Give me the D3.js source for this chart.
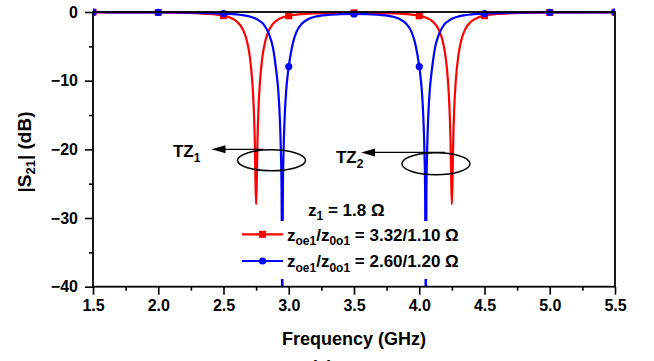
<!DOCTYPE html>
<html>
<head>
<meta charset="utf-8">
<script src="https://cdn.jsdelivr.net/npm/d3@7"></script>
<style>
  body { margin: 0; background: #fff; }
  text { font-family: "Liberation Sans", Arial, sans-serif; font-weight: bold; fill: #000; }
  .tick text { font-size: 16px; }
  .tick line { stroke: #000; stroke-width: 1.6; }
</style>
</head>
<body>
<svg id="chart" width="654" height="361"></svg>
<script>
// frequency points (GHz), denser around the transmission zeros
const freq = [
  1.5, 1.6, 1.7, 1.8, 1.9, 2.0, 2.1, 2.2, 2.3, 2.4,
  2.5, 2.55, 2.6, 2.65, 2.68, 2.7, 2.72, 2.73, 2.74, 2.745,
  2.75, 2.755, 2.76, 2.77, 2.78, 2.8, 2.82, 2.85, 2.88, 2.9,
  2.91, 2.92, 2.93, 2.94, 2.945, 2.95, 2.955, 2.96, 2.97, 2.98,
  3.0, 3.03, 3.06, 3.1, 3.15, 3.2, 3.3, 3.4, 3.5,
  3.6, 3.7, 3.8, 3.85, 3.9, 3.94, 3.97, 4.0,
  4.02, 4.03, 4.04, 4.045, 4.05, 4.055, 4.06, 4.07, 4.08, 4.09,
  4.1, 4.12, 4.15, 4.18, 4.2, 4.22, 4.23, 4.24, 4.245, 4.25,
  4.255, 4.26, 4.27, 4.28, 4.3, 4.32, 4.35, 4.4, 4.45, 4.5,
  4.6, 4.7, 4.8, 4.9, 5.0, 5.1, 5.2, 5.3, 5.4, 5.5
];

// zoe1/z0o1 = 3.32/1.10
const redDb = [
  -0.04, -0.04, -0.04, -0.05, -0.06, -0.07, -0.09, -0.13, -0.18, -0.29,
  -0.54, -0.81, -1.35, -2.59, -4.25, -6.27, -10.0, -13.3, -19.1, -24.6,
  -28.0, -24.6, -19.1, -13.3, -10.0, -6.27, -4.25, -2.59, -1.71, -1.35,
  -1.2, -1.08, -0.98, -0.89, -0.85, -0.81, -0.78, -0.74, -0.68, -0.63,
  -0.55, -0.45, -0.37, -0.3, -0.23, -0.2, -0.15, -0.13, -0.12,
  -0.13, -0.15, -0.2, -0.23, -0.3, -0.37, -0.45, -0.55,
  -0.63, -0.68, -0.74, -0.78, -0.81, -0.85, -0.89, -0.98, -1.08, -1.2,
  -1.35, -1.71, -2.59, -4.25, -6.27, -10.0, -13.3, -19.1, -24.6, -28.0,
  -24.6, -19.1, -13.3, -10.0, -6.27, -4.25, -2.59, -1.35, -0.81, -0.54,
  -0.29, -0.18, -0.13, -0.09, -0.07, -0.06, -0.05, -0.04, -0.04, -0.04
];

// zoe1/z0o1 = 2.60/1.20
const blueDb = [
  -0.03, -0.04, -0.04, -0.05, -0.05, -0.06, -0.07, -0.08, -0.11, -0.15,
  -0.22, -0.27, -0.35, -0.47, -0.56, -0.65, -0.76, -0.83, -0.9, -0.95,
  -0.99, -1.04, -1.1, -1.22, -1.35, -1.65, -2.15, -3.3, -5.3, -7.9,
  -9.5, -11.5, -14.8, -20.5, -26.0, -45.0, -26.0, -20.5, -14.8, -11.5,
  -7.95, -4.65, -2.85, -1.7, -1.03, -0.7, -0.42, -0.32, -0.29,
  -0.32, -0.42, -0.7, -1.03, -1.7, -2.85, -4.65, -7.95,
  -11.5, -14.8, -20.5, -26.0, -45.0, -26.0, -20.5, -14.8, -11.5, -9.5,
  -7.9, -5.3, -3.3, -2.15, -1.65, -1.35, -1.22, -1.1, -1.04, -0.99,
  -0.95, -0.9, -0.83, -0.76, -0.65, -0.56, -0.47, -0.35, -0.27, -0.22,
  -0.15, -0.11, -0.08, -0.07, -0.06, -0.05, -0.05, -0.04, -0.04, -0.03
];

const xTicks = [1.5, 2.0, 2.5, 3.0, 3.5, 4.0, 4.5, 5.0, 5.5];
const xMinor = [1.75, 2.25, 2.75, 3.25, 3.75, 4.25, 4.75, 5.25];
const yTicks = [0, -10, -20, -30, -40];
const yMinor = [-5, -15, -25, -35];

const svg = d3.select("#chart");
const L = 93, R = 615, T = 12, B = 286.7;

const x = d3.scaleLinear().domain([1.5, 5.5]).range([L, R]);
const y = d3.scaleLinear().domain([-40, 0]).range([B, T]);

svg.append("rect").attr("width", 654).attr("height", 361).attr("fill", "#fff");

svg.append("defs").append("clipPath").attr("id", "plot-clip")
  .append("rect").attr("x", L).attr("y", 0).attr("width", R - L).attr("height", B);

// ── Curves ───────────────────────────────────────────────
const line = d3.line()
  .x(d => x(d.f))
  .y(d => y(d.v))
  .curve(d3.curveMonotoneX);

const plot = svg.append("g").attr("clip-path", "url(#plot-clip)");

function drawSeries(vals, color, shape) {
  const pts = freq.map((f, i) => ({ f, v: vals[i] }));
  plot.append("path")
    .datum(pts)
    .attr("d", line)
    .attr("fill", "none")
    .attr("stroke", color)
    .attr("stroke-width", 2.2)
    .attr("stroke-linejoin", "round");
  // markers every 0.5 GHz
  const marks = pts.filter(d => Math.abs(d.f * 2 - Math.round(d.f * 2)) < 1e-6);
  if (shape === "square") {
    plot.selectAll(null).data(marks).join("rect")
      .attr("x", d => x(d.f) - 3.5).attr("y", d => y(d.v) - 3.5)
      .attr("width", 7).attr("height", 7).attr("fill", color);
  } else {
    plot.selectAll(null).data(marks).join("circle")
      .attr("cx", d => x(d.f)).attr("cy", d => y(d.v))
      .attr("r", 3.6).attr("fill", color);
  }
}
drawSeries(redDb, "#ff0000", "square");
drawSeries(blueDb, "#0000ff", "circle");

// ── Axes ─────────────────────────────────────────────────
const gx = svg.append("g").attr("transform", `translate(0,${B})`)
  .call(d3.axisBottom(x).tickValues(xTicks).tickFormat(d3.format(".1f")).tickSize(8).tickPadding(5));
gx.select(".domain").remove();
const gxm = svg.append("g").attr("transform", `translate(0,${B})`)
  .call(d3.axisBottom(x).tickValues(xMinor).tickFormat("").tickSize(4));
gxm.select(".domain").remove();

const gy = svg.append("g").attr("transform", `translate(${L},0)`)
  .call(d3.axisLeft(y).tickValues(yTicks).tickFormat(d3.format("d")).tickSize(8).tickPadding(7));
gy.select(".domain").remove();
const gym = svg.append("g").attr("transform", `translate(${L},0)`)
  .call(d3.axisLeft(y).tickValues(yMinor).tickFormat("").tickSize(4));
gym.select(".domain").remove();

svg.append("rect")
  .attr("x", L).attr("y", T).attr("width", R - L).attr("height", B - T)
  .attr("fill", "none").attr("stroke", "#000").attr("stroke-width", 1.8);

// axis titles
svg.append("text")
  .attr("x", (L + R) / 2).attr("y", 345)
  .attr("text-anchor", "middle").style("font-size", "18px")
  .text("Frequency (GHz)");

const yt = svg.append("text")
  .attr("transform", "translate(31,152) rotate(-90)")
  .attr("text-anchor", "middle").style("font-size", "19px");
yt.append("tspan").text("|S");
yt.append("tspan").attr("dy", 4).style("font-size", "13px").text("21");
yt.append("tspan").attr("dy", -4).text("| (dB)");

svg.append("text")
  .attr("x", 322).attr("y", 373).attr("text-anchor", "middle").style("font-size", "18px")
  .text("(a)");

// ── TZ annotations ───────────────────────────────────────
function arrow(f0, f1, db) {
  const yy = y(db);
  svg.append("line")
    .attr("x1", x(f0)).attr("x2", x(f1) + 10).attr("y1", yy).attr("y2", yy)
    .attr("stroke", "#000").attr("stroke-width", 1.3);
  const tip = x(f1);
  svg.append("path")
    .attr("d", `M${tip},${yy}L${tip + 14},${yy - 4}L${tip + 14},${yy + 4}Z`)
    .attr("fill", "#000");
}
function ellipse(f, db, rx, ry) {
  svg.append("ellipse")
    .attr("cx", x(f)).attr("cy", y(db)).attr("rx", rx).attr("ry", ry)
    .attr("fill", "none").attr("stroke", "#000").attr("stroke-width", 1.5);
}
function tzLabel(f, db, sub) {
  const t = svg.append("text").attr("x", x(f)).attr("y", y(db)).style("font-size", "17px");
  t.append("tspan").text("TZ");
  t.append("tspan").attr("dy", 5).style("font-size", "12px").text(sub);
}

ellipse(2.868, -21.6, 34, 10.5);
arrow(2.806, 2.408, -20.0);
tzLabel(2.113, -21.05, "1");

ellipse(4.128, -22.1, 34, 11);
arrow(4.197, 3.554, -20.45);
tzLabel(3.362, -22.0, "2");

// ── Legend ───────────────────────────────────────────────
svg.append("rect")
  .attr("x", 238).attr("y", 221).attr("width", 232).attr("height", 58)
  .attr("fill", "#fff");

const z1 = svg.append("text").attr("x", 308).attr("y", 215.5).style("font-size", "17px");
z1.append("tspan").text("z");
z1.append("tspan").attr("dy", 4.5).style("font-size", "12px").text("1");
z1.append("tspan").attr("dy", -4.5).text(" = 1.8 \u03A9");

const legendRows = [
  { color: "#ff0000", shape: "square", ratio: "3.32/1.10", y: 234.3 },
  { color: "#0000ff", shape: "circle", ratio: "2.60/1.20", y: 261 }
];
legendRows.forEach(r => {
  svg.append("line")
    .attr("x1", 242).attr("x2", 283).attr("y1", r.y).attr("y2", r.y)
    .attr("stroke", r.color).attr("stroke-width", 2.2);
  if (r.shape === "square") {
    svg.append("rect").attr("x", 259).attr("y", r.y - 3.5).attr("width", 7).attr("height", 7).attr("fill", r.color);
  } else {
    svg.append("circle").attr("cx", 262.5).attr("cy", r.y).attr("r", 3.6).attr("fill", r.color);
  }
  const t = svg.append("text").attr("x", 287).attr("y", r.y + 6.3).style("font-size", "17px");
  t.append("tspan").text("z");
  t.append("tspan").attr("dy", 4.5).style("font-size", "12px").text("oe1");
  t.append("tspan").attr("dy", -4.5).text("/z");
  t.append("tspan").attr("dy", 4.5).style("font-size", "12px").text("0o1");
  t.append("tspan").attr("dy", -4.5).text(" = " + r.ratio + " \u03A9");
});
</script>
</body>
</html>
